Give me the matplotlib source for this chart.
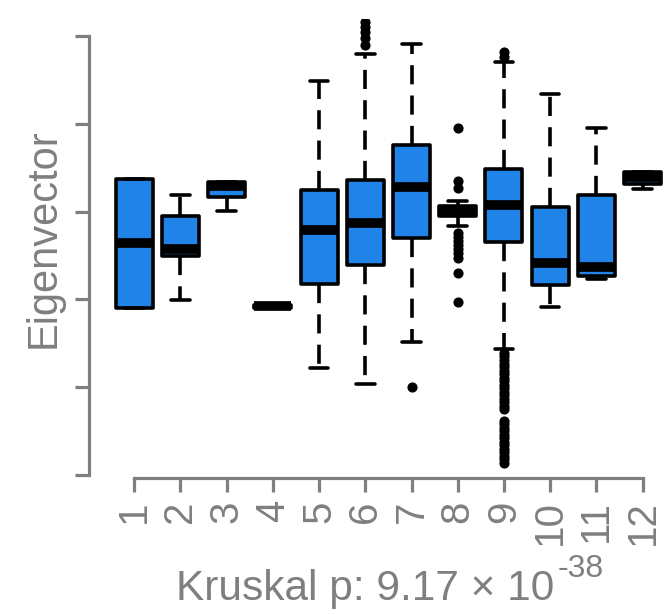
import numpy as np
import matplotlib
matplotlib.use('Agg')
import matplotlib.pyplot as plt

plt.rcParams['font.family'] = ['Liberation Sans', 'DejaVu Sans']

# data (arbitrary eigenvector units)
groups = ['1', '2', '3', '4', '5', '6', '7', '8', '9', '10', '11', '12']
q1 = [1.90, 2.49, 3.17, 1.90, 2.18, 2.39, 2.70, 2.95, 2.65, 2.16, 2.27, 3.31]
med = [2.64, 2.57, 3.29, 1.92, 2.79, 2.87, 3.28, 3.01, 3.08, 2.41, 2.37, 3.39]
q3 = [3.37, 2.95, 3.34, 1.94, 3.25, 3.36, 3.76, 3.06, 3.49, 3.05, 3.19, 3.45]
whislo = [1.90, 1.99, 3.01, 1.90, 1.22, 1.04, 1.51, 2.84, 1.44, 1.91, 2.23, 3.26]
whishi = [3.37, 3.19, 3.34, 1.94, 4.49, 4.79, 4.91, 3.12, 4.70, 4.34, 3.95, 3.45]
fliers = [
    [],
    [],
    [],
    [],
    [],
    [5.16, 5.10, 5.05, 4.98, 4.90],
    [1.00],
    [3.95, 3.35, 3.27, 2.76, 2.71, 2.67, 2.62, 2.57, 2.53, 2.47, 2.30, 1.97],
    [4.82, 4.76, 1.39, 1.35, 1.31, 1.27, 1.23, 1.19, 1.15, 1.11, 1.07, 1.03,
     0.99, 0.95, 0.91, 0.87, 0.83, 0.79, 0.75, 0.62, 0.58, 0.54, 0.50, 0.46,
     0.42, 0.38, 0.34, 0.30, 0.26, 0.22, 0.18, 0.14],
    [],
    [],
    [],
]
ylabel = 'Eigenvector'
xlabel = 'Kruskal p: 9.17 \u00d7 10'
xlabel_exp = '-38'

stats = []
for i in range(len(groups)):
    stats.append(dict(med=med[i], q1=q1[i], q3=q3[i], whislo=whislo[i],
                      whishi=whishi[i], fliers=fliers[i], label=groups[i]))

fig = plt.figure(figsize=(6.67, 6.15), dpi=100)
ax = fig.add_axes([89 / 667, (615 - 478) / 615, 598.8 / 667, 459.5 / 615])

gray = '#7f7f7f'
pos = np.arange(1, len(groups) + 1)
ax.bxp(stats, positions=pos, widths=0.8, capwidths=0.4,
       patch_artist=True,
       boxprops=dict(facecolor='#1f83e8', edgecolor='black', linewidth=2.6,
                     joinstyle='round'),
       medianprops=dict(color='black', linewidth=7, solid_capstyle='butt'),
       whiskerprops=dict(color='black', linewidth=2.6, linestyle=(0, (5.3, 3.1))),
       capprops=dict(color='black', linewidth=2.6, solid_capstyle='round'),
       flierprops=dict(marker='o', markerfacecolor='black', markeredgecolor='black',
                       markersize=6.3, linestyle='none'))

ax.set_xlim(0.02, 12.98)
ax.set_ylim(-0.034, 5.2)

ax.set_xticks(pos)
ax.set_xticklabels(groups, rotation=90, fontsize=29, color=gray)
ax.set_yticks([0, 1, 2, 3, 4, 5])
ax.set_yticklabels([])
ax.tick_params(axis='both', length=10, width=2.3, color=gray, pad=6)

for s in ['top', 'right']:
    ax.spines[s].set_visible(False)
for s in ['left', 'bottom']:
    ax.spines[s].set_color(gray)
    ax.spines[s].set_linewidth(2.3)
ax.spines['left'].set_bounds(0, 5)
ax.spines['bottom'].set_bounds(pos[0], pos[-1])

fig.text(44 / 667, 1 - 238 / 615, ylabel, rotation=90, fontsize=30, color=gray,
         ha='center', va='center')
t = fig.text(176 / 667, 1 - 600 / 615, xlabel, fontsize=30.5, color=gray,
             ha='left', va='baseline')
fig.canvas.draw()
bb = t.get_window_extent()
fig.text((bb.x1 + 3) / 667, 1 - 577 / 615, xlabel_exp, fontsize=23,
         color=gray, ha='left', va='baseline')

fig.savefig('out.png', dpi=100)
